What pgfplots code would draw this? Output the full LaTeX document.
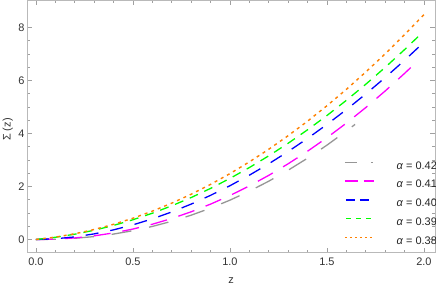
\documentclass[border=0pt]{standalone}
\usepackage{fontspec}
\setmainfont{Liberation Sans}
\usepackage{pgfplots}
\pgfplotsset{compat=1.18}
\definecolor{cgray}{RGB}{150,150,150}
\definecolor{cmag}{RGB}{255,0,255}
\definecolor{cblue}{RGB}{0,0,255}
\definecolor{cgreen}{RGB}{0,255,0}
\definecolor{corange}{RGB}{255,128,0}
\definecolor{framec}{RGB}{185,185,185}
\definecolor{tickc}{RGB}{160,160,160}
\begin{document}
\begin{tikzpicture}
\begin{axis}[
  scale only axis, width=408bp, height=252bp,
  xmin=-0.046, xmax=2.057, ymin=-0.49, ymax=9.02,
  xtick={0,0.5,1,1.5,2}, xticklabels={0.0,0.5,1.0,1.5,2.0},
  ytick={0,2,4,6,8}, yticklabels={0,2,4,6,8},
  minor x tick num=4, minor y tick num=3,
  tick align=inside, major tick length=5bp, minor tick length=3bp,
  axis line style={framec, line width=0.8bp},
  every tick/.style={tickc, line width=0.6bp},
  tick label style={font=\fontsize{11}{13}\selectfont, text=black!80},
  xticklabel style={yshift=-1.5bp},
  yticklabel style={anchor=east, inner sep=0pt, xshift=-2.3bp},
  xlabel={z}, ylabel={Σ (z)},
  label style={font=\fontsize{11}{13}\selectfont, text=black!80},
  xlabel style={at={(axis description cs:0.5,-0.111)}, anchor=center},
  ylabel style={at={(axis description cs:-0.047,0.488)}, anchor=center},
  legend style={draw=none, fill=none, at={(axis description cs:0.777,0.363)}, anchor=north west,
    inner sep=0pt, outer sep=0pt, row sep=8.3bp, column sep=22bp,
    font=\fontsize{11}{13}\selectfont,
    nodes={inner sep=0pt, text height=8bp, text depth=2.5bp}},
  legend cell align=left,
  legend image code/.code={\draw[#1] (0bp,4bp) -- (29bp,4bp);},
]
\addplot[forget plot, draw=cgray, line width=1.3bp, dash pattern=on 20bp off 18bp]
coordinates {(0,0) (0.1,0.0103) (0.2,0.0462) (0.3,0.1106) (0.4,0.2058) (0.5,0.3330) (0.6,0.4934) (0.7,0.6880) (0.8,0.9177) (0.9,1.1832) (1.0,1.485) (1.1,1.8239) (1.2,2.2005) (1.3,2.6152) (1.4,3.0686) (1.5,3.5609) (1.6,4.0927) (1.645,4.3451)};
\addplot[forget plot, draw=cmag, line width=1.3bp, dash pattern=on 17bp off 12bp]
coordinates {(0,0) (0.1,0.0141) (0.2,0.0593) (0.3,0.1373) (0.4,0.2491) (0.5,0.3954) (0.6,0.5766) (0.7,0.7933) (0.8,1.0460) (0.9,1.3348) (1.0,1.66) (1.1,2.0220) (1.2,2.4211) (1.3,2.8575) (1.4,3.3313) (1.5,3.8426) (1.6,4.3917) (1.7,4.9790) (1.8,5.6043) (1.9,6.2679) (1.96,6.6845)};
\addplot[forget plot, draw=cblue, line width=1.3bp, dash pattern=on 13bp off 12bp]
coordinates {(0,0) (0.1,0.0271) (0.2,0.0993) (0.3,0.2124) (0.4,0.3642) (0.5,0.5534) (0.6,0.7790) (0.7,1.0400) (0.8,1.3360) (0.9,1.6661) (1.0,2.03) (1.1,2.4272) (1.2,2.8573) (1.3,3.3200) (1.4,3.8150) (1.5,4.3420) (1.6,4.9004) (1.7,5.4903) (1.8,6.1113) (1.9,6.7632) (2.0,7.4460)};
\addplot[forget plot, draw=cgreen, line width=1.3bp, dash pattern=on 9bp off 7bp]
coordinates {(0,0) (0.1,0.084) (0.2,0.2005) (0.3,0.3496) (0.4,0.5313) (0.5,0.7456) (0.6,0.9924) (0.7,1.2718) (0.8,1.5838) (0.9,1.9283) (1.0,2.3054) (1.1,2.7152) (1.2,3.1574) (1.3,3.632) (1.4,4.140) (1.5,4.679) (1.6,5.252) (1.7,5.858) (1.8,6.495) (1.9,7.166) (1.98,7.725)};
\addplot[forget plot, draw=corange, line width=1.4bp, dash pattern=on 3bp off 4bp]
coordinates {(0,0) (0.1,0.0906) (0.2,0.2163) (0.3,0.3771) (0.4,0.5731) (0.5,0.8043) (0.6,1.0705) (0.7,1.3719) (0.8,1.7085) (0.9,2.0802) (1.0,2.487) (1.1,2.929) (1.2,3.406) (1.3,3.918) (1.4,4.466) (1.5,5.048) (1.6,5.666) (1.7,6.319) (1.8,7.007) (1.9,7.730) (2.0,8.488)};
\addlegendimage{draw=cgray, line width=1.5bp, dash pattern=on 12.5bp off 13.5bp on 2.5bp off 5bp}
\addlegendentry{\textcolor{black!85}{\textit{α} = 0.42}}
\addlegendimage{draw=cmag, line width=1.5bp, dash pattern=on 13bp off 6bp on 10bp off 5bp}
\addlegendentry{\textcolor{black!85}{\textit{α} = 0.41}}
\addlegendimage{draw=cblue, line width=1.5bp, dash pattern=on 0bp off 1bp on 9bp off 5bp on 9bp off 5bp}
\addlegendentry{\textcolor{black!85}{\textit{α} = 0.40}}
\addlegendimage{draw=cgreen, line width=1.5bp, dash pattern=on 0bp off 1bp on 5bp off 4bp}
\addlegendentry{\textcolor{black!85}{\textit{α} = 0.39}}
\addlegendimage{draw=corange, line width=1.6bp, dash pattern=on 2.5bp off 2.5bp}
\addlegendentry{\textcolor{black!85}{\textit{α} = 0.38}}
\end{axis}
\pgfresetboundingbox
\path ([shift={(-27bp,-35bp)}]current axis.south west) rectangle ([shift={(1bp,0.5bp)}]current axis.north east);
\end{tikzpicture}
\end{document}
